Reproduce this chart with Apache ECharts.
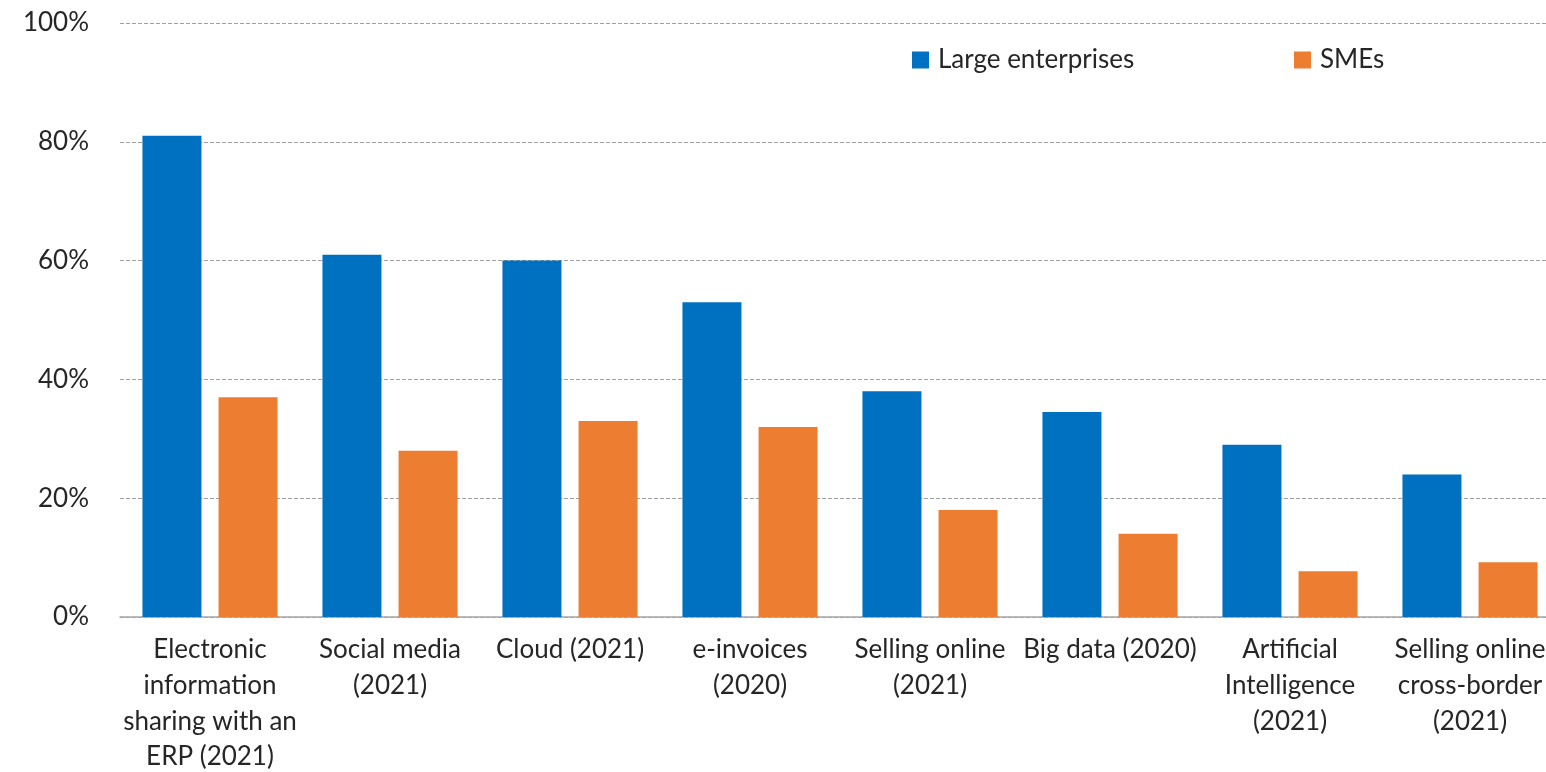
<!DOCTYPE html>
<html>
<head>
<meta charset="utf-8">
<script src="https://cdn.jsdelivr.net/npm/echarts@6/dist/echarts.min.js"></script>
<style>
  html, body { margin: 0; padding: 0; background: #fff; }
  #chart { width: 1546px; height: 772px; }
</style>
</head>
<body>
<div id="chart"></div>
<script>
var categories = [
  "Electronic\ninformation\nsharing with an\nERP (2021)",
  "Social media\n(2021)",
  "Cloud (2021)",
  "e-invoices\n(2020)",
  "Selling online\n(2021)",
  "Big data (2020)",
  "Artificial\nIntelligence\n(2021)",
  "Selling online\ncross-border\n(2021)"
];
var largeEnterprises = [81, 61, 60, 53, 38, 34.5, 29, 24];
var smes = [37, 28, 33, 32, 18, 14, 7.7, 9.2];
var yTicks = [0, 20, 40, 60, 80, 100];

var font = "Lato";
var textColor = "#262626";

var chart = echarts.init(document.getElementById("chart"));
chart.setOption({
  animation: false,
  textStyle: { fontFamily: font },
  legend: [
    {
      left: 907,
      top: 42,
      icon: "rect",
      itemWidth: 17,
      itemHeight: 17,
      textStyle: { fontFamily: font, fontSize: 26, color: textColor, padding: [0, 0, 0, 4] },
      data: ["Large enterprises"]
    },
    {
      left: 1289,
      top: 42,
      icon: "rect",
      itemWidth: 17,
      itemHeight: 17,
      textStyle: { fontFamily: font, fontSize: 26, color: textColor, padding: [0, 0, 0, 4] },
      data: ["SMEs"]
    }
  ],
  grid: {
    left: 120,
    right: -14,
    top: 23,
    bottom: 155,
    outerBoundsMode: "none"
  },
  xAxis: {
    type: "category",
    data: categories,
    axisTick: { show: false },
    axisLine: { lineStyle: { color: "#a6a6a6", width: 1.5 } },
    axisLabel: {
      interval: 0,
      margin: 15,
      fontFamily: font,
      fontSize: 26,
      lineHeight: 35.7,
      color: textColor,
      align: "center"
    }
  },
  yAxis: {
    type: "value",
    min: yTicks[0],
    max: yTicks[yTicks.length - 1],
    interval: 20,
    axisLine: { show: false },
    axisTick: { show: false },
    axisLabel: {
      margin: 31,
      fontFamily: font,
      fontSize: 26,
      color: textColor,
      formatter: "{value}%"
    },
    splitLine: {
      lineStyle: { color: "#a0a0a0", type: [4, 2], width: 1 }
    }
  },
  series: [
    {
      name: "Large enterprises",
      type: "bar",
      data: largeEnterprises,
      barWidth: 59,
      barGap: "29%",
      itemStyle: { color: "#0070C0" }
    },
    {
      name: "SMEs",
      type: "bar",
      data: smes,
      barWidth: 59,
      barGap: "29%",
      itemStyle: { color: "#ED7D31" }
    }
  ]
});
</script>
</body>
</html>
